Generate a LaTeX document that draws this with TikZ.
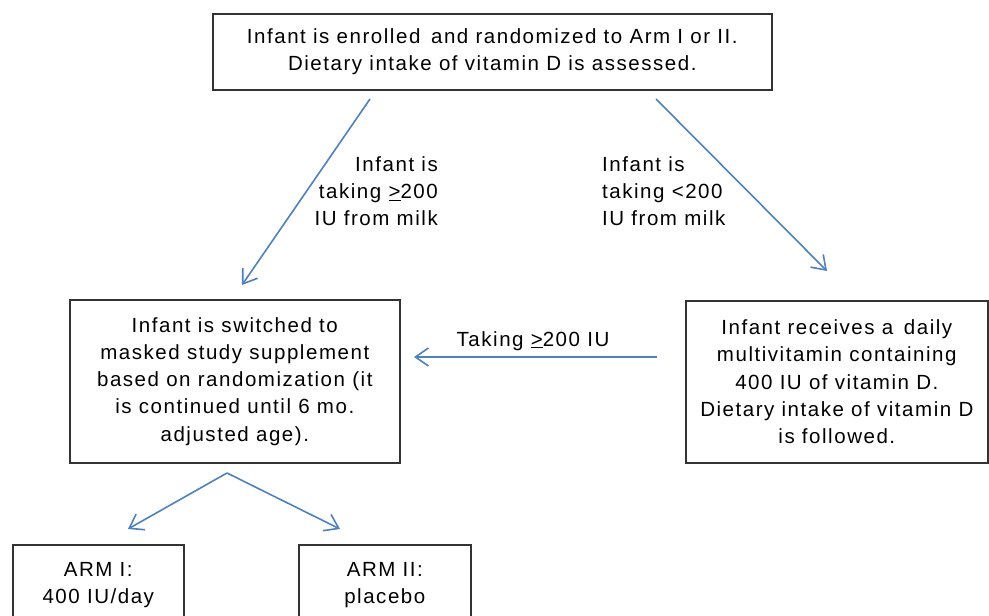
\documentclass[tikz,border=0pt]{standalone}
\usepackage{fontspec}
\setmainfont{Liberation Sans}[LetterSpace=7.5]
\usetikzlibrary{arrows.meta}
\definecolor{arrblue}{HTML}{4F81BD}
\definecolor{boxline}{HTML}{333333}
\begin{document}
\begin{tikzpicture}[x=1pt,y=-1pt,
  txt/.style={font=\fontsize{20.5}{27.3}\selectfont, inner sep=0pt},
  box/.style={txt, draw=boxline, line width=1.6pt, align=center, fill=white},
  arr/.style={draw=arrblue, line width=1.6pt, -{Straight Barb[length=13pt,width=18pt,line width=1.6pt]}}]
\useasboundingbox (0,0) rectangle (989,616);
\clip (0,0) rectangle (989,616);
\fill[white] (0,0) rectangle (989,616);

\node[box, anchor=north west, minimum width=559pt, minimum height=76pt] (top) at (212,13)
  {Infant is enrolled\, and randomized to Arm I or II.\\Dietary intake of vitamin D is assessed.};

\node[box, anchor=north west, minimum width=330pt, minimum height=163pt] (switch) at (69,299)
  {Infant is switched to\\masked study supplement\\based on randomization (it\\is continued until 6 mo.\\adjusted age).};

\node[box, anchor=north west, minimum width=302pt, minimum height=162pt] (multi) at (685,300)
  {Infant receives a\, daily\\multivitamin containing\\400 IU of vitamin D.\\Dietary intake of vitamin D\\is followed.};

\node[box, anchor=north west, minimum width=171pt, minimum height=80pt] (arm1) at (12,544)
  {ARM I:\\400 IU/day};
\node[box, anchor=north west, minimum width=172pt, minimum height=80pt] (arm2) at (298,544)
  {ARM II:\\placebo};

\node[txt, align=right, anchor=north east] (lbl1) at (438,156)
  {Infant is\\taking \underline{>}200\\IU from milk};
\node[txt, align=left, anchor=north west] (lbl2) at (602,156)
  {Infant is\\taking <200\\IU from milk};
\node[txt, anchor=base] (lbl3) at (533,346) {Taking \underline{>}200 IU};

\coordinate (a1s) at (370,99);
\coordinate (a1e) at (242,285);
\coordinate (a2s) at (656,99);
\coordinate (a2e) at (827,271);
\coordinate (a3s) at (657,357);
\coordinate (a3e) at (414,357);
\coordinate (fork) at (227,473);
\coordinate (a4e) at (128,529);
\coordinate (a5e) at (340,529);

\draw[arr] (a1s) -- (a1e);
\draw[arr] (a2s) -- (a2e);
\draw[arr] (a3s) -- (a3e);
\draw[arr] (fork) -- (a4e);
\draw[arr] (fork) -- (a5e);
\end{tikzpicture}
\end{document}
